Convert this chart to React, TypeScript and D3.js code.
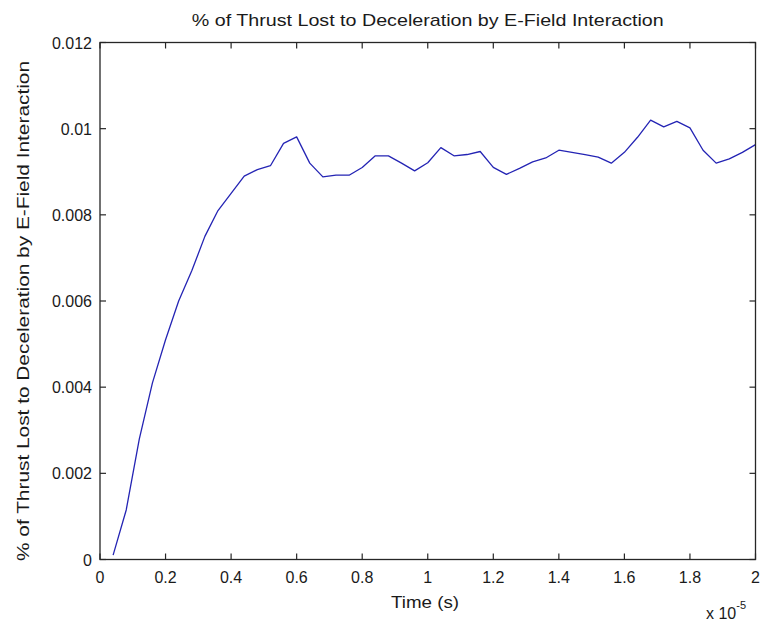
import React from "react";
import * as d3 from "d3";

const TITLE = "% of Thrust Lost to Deceleration by E-Field Interaction";
const X_LABEL = "Time (s)";
const Y_LABEL = "% of Thrust Lost to Deceleration by E-Field Interaction";

// time in units of 1e-5 s
const timeValues = [
  0.04, 0.08, 0.12, 0.16, 0.2, 0.24, 0.28, 0.32, 0.36, 0.4,
  0.44, 0.48, 0.52, 0.56, 0.6, 0.64, 0.68, 0.72, 0.76, 0.8,
  0.84, 0.88, 0.92, 0.96, 1.0, 1.04, 1.08, 1.12, 1.16, 1.2,
  1.24, 1.28, 1.32, 1.36, 1.4, 1.44, 1.48, 1.52, 1.56, 1.6,
  1.64, 1.68, 1.72, 1.76, 1.8, 1.84, 1.88, 1.92, 1.96, 2.0,
];
const thrustLost = [
  0.0001, 0.00115, 0.0028, 0.0041, 0.0051, 0.006, 0.0067, 0.0075, 0.0081, 0.0085,
  0.0089, 0.00905, 0.00914, 0.00966, 0.00981, 0.0092, 0.00888, 0.00892, 0.00892, 0.0091,
  0.00937, 0.00937, 0.0092, 0.00902, 0.00921, 0.00956, 0.00937, 0.0094, 0.00947, 0.0091,
  0.00894, 0.00908, 0.00923, 0.00932, 0.0095, 0.00945, 0.0094, 0.00934, 0.0092, 0.00945,
  0.0098, 0.0102, 0.01004, 0.01017, 0.01002, 0.0095, 0.0092, 0.0093, 0.00945, 0.00963,
];

const xTicks = [0, 0.2, 0.4, 0.6, 0.8, 1, 1.2, 1.4, 1.6, 1.8, 2];
const xTickLabels = ["0", "0.2", "0.4", "0.6", "0.8", "1", "1.2", "1.4", "1.6", "1.8", "2"];
const yTicks = [0, 0.002, 0.004, 0.006, 0.008, 0.01, 0.012];
const yTickLabels = ["0", "0.002", "0.004", "0.006", "0.008", "0.01", "0.012"];

const W = 762;
const H = 626;
const M = { left: 100, right: 755.5, top: 42.5, bottom: 559.5 };
const FONT = "'Liberation Sans', Arial, Helvetica, sans-serif";
const AXIS = "#262626";
const TEXT = "#1a1a1a";

export default function App() {
  const x = d3.scaleLinear().domain([0, 2]).range([M.left, M.right]);
  const y = d3.scaleLinear().domain([0, 0.012]).range([M.bottom, M.top]);
  const data = timeValues.map((t, i) => [t, thrustLost[i]] as [number, number]);
  const line = d3
    .line<[number, number]>()
    .x((d) => x(d[0]))
    .y((d) => y(d[1]));
  const tk = 6;

  return (
    <svg
      width={W}
      height={H}
      style={{ position: "absolute", left: 0, top: 0, background: "#fff" }}
      fontFamily={FONT}
    >
      <rect x={0} y={0} width={W} height={H} fill="#fff" />
      {/* title */}
      <text
        x={(M.left + M.right) / 2}
        y={26}
        textAnchor="middle"
        fontSize={17}
        fill={TEXT}
        textLength={472}
        lengthAdjust="spacingAndGlyphs"
      >
        {TITLE}
      </text>

      {/* data line */}
      <path d={line(data) || ""} fill="none" stroke="#2424b4" strokeWidth={1.3} strokeLinejoin="round" />

      {/* box */}
      <rect
        x={M.left}
        y={M.top}
        width={M.right - M.left}
        height={M.bottom - M.top}
        fill="none"
        stroke={AXIS}
        strokeWidth={1.3}
      />

      {/* x ticks */}
      {xTicks.map((t, i) => (
        <g key={"x" + i}>
          <line x1={x(t)} x2={x(t)} y1={M.bottom} y2={M.bottom - tk} stroke={AXIS} strokeWidth={1.2} />
          <line x1={x(t)} x2={x(t)} y1={M.top} y2={M.top + tk} stroke={AXIS} strokeWidth={1.2} />
          <text x={x(t)} y={583} textAnchor="middle" fontSize={16} fill={TEXT}>
            {xTickLabels[i]}
          </text>
        </g>
      ))}

      {/* y ticks */}
      {yTicks.map((t, i) => (
        <g key={"y" + i}>
          <line x1={M.left} x2={M.left + tk} y1={y(t)} y2={y(t)} stroke={AXIS} strokeWidth={1.2} />
          <line x1={M.right} x2={M.right - tk} y1={y(t)} y2={y(t)} stroke={AXIS} strokeWidth={1.2} />
          <text x={92} y={y(t) + 6} textAnchor="end" fontSize={16} fill={TEXT}>
            {yTickLabels[i]}
          </text>
        </g>
      ))}

      {/* x label */}
      <text x={425} y={608} textAnchor="middle" fontSize={17} fill={TEXT} textLength={68} lengthAdjust="spacingAndGlyphs">
        {X_LABEL}
      </text>

      {/* exponent */}
      <text x={706} y={619} fontSize={16} fill={TEXT}>
        x 10
        <tspan dy={-10} fontSize={11}>-5</tspan>
      </text>

      {/* y label */}
      <text
        transform={`translate(29, ${(M.top + M.bottom) / 2 + 10}) rotate(-90)`}
        textAnchor="middle"
        fontSize={17}
        fill={TEXT}
        textLength={500}
        lengthAdjust="spacingAndGlyphs"
      >
        {Y_LABEL}
      </text>
    </svg>
  );
}
